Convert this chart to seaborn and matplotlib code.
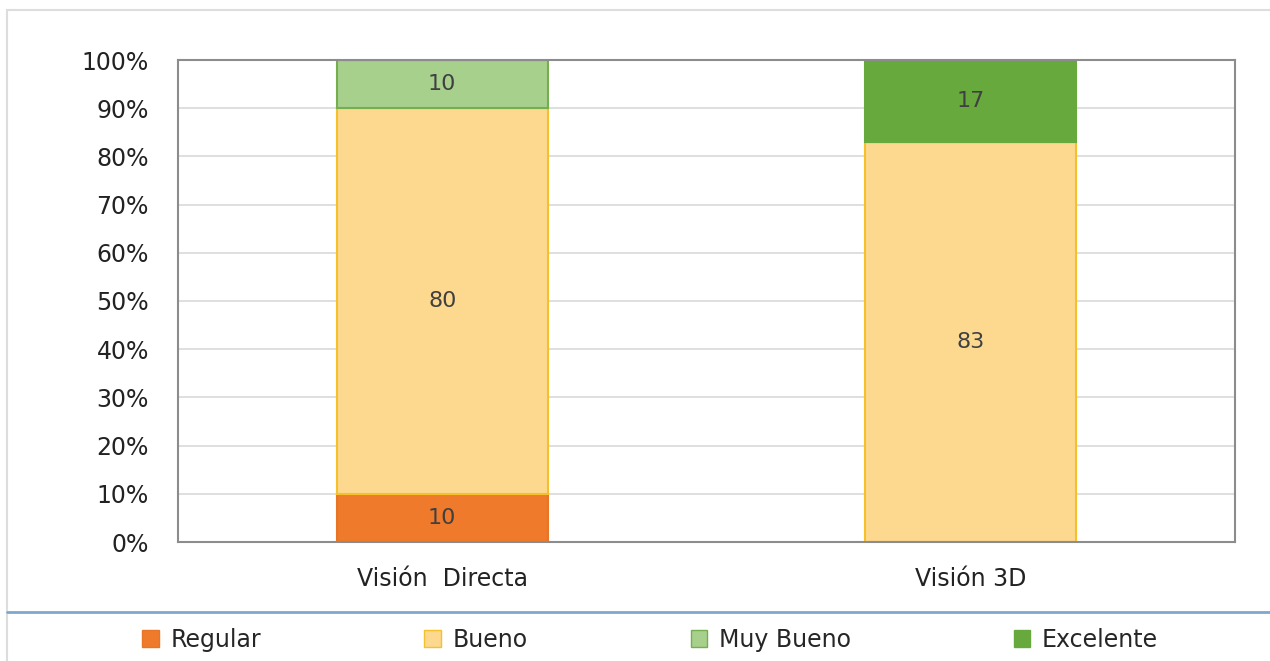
import matplotlib
matplotlib.use('Agg')
import pandas as pd
import seaborn as sns
from matplotlib import pyplot as plt
from matplotlib.patches import Patch
from matplotlib.lines import Line2D

sns.set_style("white")
plt.rcParams['font.family'] = ['DejaVu Sans']

categories = ['Visión  Directa', 'Visión 3D']
series = ['Regular', 'Bueno', 'Muy Bueno', 'Excelente']
regular = [10, 0]
bueno = [80, 83]
muy_bueno = [10, 0]
excelente = [0, 17]
yticks = [0, 10, 20, 30, 40, 50, 60, 70, 80, 90, 100]

fills = ['#EF7A2C', '#FDD88F', '#A8D08D', '#67A93D']
edges = ['#E87526', '#F5C02A', '#74AE4E', '#67A93D']

df = pd.DataFrame({'cat': categories, 'Regular': regular, 'Bueno': bueno,
                   'Muy Bueno': muy_bueno, 'Excelente': excelente})

fig = plt.figure(figsize=(12.7, 6.61), dpi=100)
ax = fig.add_axes([178/1270, 1 - 542/661, 1057/1270, 482/661])

bottom = [0, 0]
for name, fc, ec in zip(series, fills, edges):
    sns.barplot(data=df, x='cat', y=name, bottom=bottom, color=fc, ax=ax,
                width=0.4, edgecolor=ec, linewidth=1.5, saturation=1)
    for i, v in enumerate(df[name]):
        if v > 0:
            ax.text(i, bottom[i] + v / 2, str(v), ha='center', va='center',
                    fontsize=16, color='#404040')
    bottom = [b + v for b, v in zip(bottom, df[name])]

ax.set_ylim(0, 100)
ax.set_yticks(yticks)
ax.set_yticklabels(['{}%'.format(t) for t in yticks], fontsize=17, color='#222222')
ax.tick_params(axis='x', labelsize=17, colors='#222222', pad=18, length=0)
ax.tick_params(axis='y', length=0, pad=21)
ax.set_xlabel('')
ax.set_ylabel('')
ax.set_axisbelow(True)
ax.yaxis.grid(True, color='#D9D9D9', linewidth=1.2)
for s in ax.spines.values():
    s.set_visible(True)
    s.set_color('#8C8C8C')
    s.set_linewidth(1.5)

# outer frame and separator line
fig.add_artist(Line2D([7/1270, 1], [1 - 10/661, 1 - 10/661], color='#DDDDDD', lw=1.5))
fig.add_artist(Line2D([7/1270, 7/1270], [0, 1 - 10/661], color='#DDDDDD', lw=1.5))
fig.add_artist(Line2D([7/1270, 1], [1 - 612/661, 1 - 612/661], color='#7FA7D0', lw=2))

handles = [Patch(facecolor=fc, edgecolor=ec, label=n) for n, fc, ec in zip(series, fills, edges)]
fig.legend(handles=handles, loc='center', bbox_to_anchor=(0.512, 1 - 640/661), ncol=4,
           frameon=False, fontsize=17, handlelength=0.7, handleheight=0.7,
           handletextpad=0.5, columnspacing=6.9)

fig.savefig('out.png', dpi=100)
